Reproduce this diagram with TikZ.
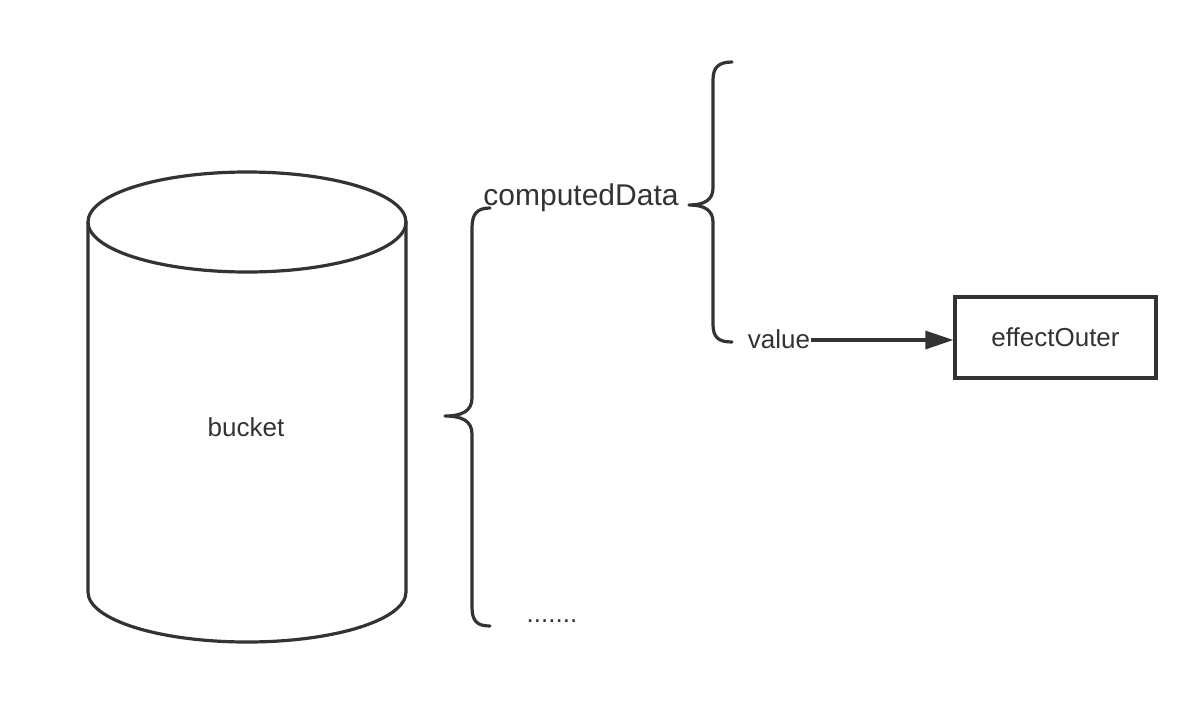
\documentclass[tikz,border=0pt]{standalone}
\usepackage{fontspec}
\setmainfont{Liberation Sans}
\usetikzlibrary{arrows.meta}
\definecolor{ink}{HTML}{333333}
\begin{document}
\begin{tikzpicture}[x=1pt,y=-1pt,
  stroke/.style={draw=ink,line width=3.2pt,line cap=round,line join=round},
  lbl/.style={text=ink,inner sep=1pt,font=\fontsize{26}{30}\selectfont},
  boxnode/.style={draw=ink,line width=3.2pt,minimum width=201pt,minimum height=81pt,inner sep=0pt,text=ink,font=\fontsize{26}{30}\selectfont}]
\useasboundingbox (0,0) rectangle (1178,702);
% cylinder
\draw[stroke] (247,222) ellipse [x radius=159, y radius=50];
\draw[stroke] (88,222) -- (88,592) arc[start angle=180, end angle=0, x radius=159, y radius=50] -- (406,222);
\node[lbl] (bucket) at (246,427) {bucket};
% left brace
\draw[stroke] (490,208) .. controls (477,208) and (472,214) .. (472,228) -- (472,398)
  .. controls (472,411) and (462,416) .. (445,416)
  .. controls (462,416) and (472,421) .. (472,434) -- (472,607)
  .. controls (472,621) and (477,626) .. (490,626);
% right brace
\draw[stroke] (732,62) .. controls (718,62) and (713,68) .. (713,80) -- (713,188)
  .. controls (713,200) and (704,205) .. (689,205)
  .. controls (704,205) and (713,210) .. (713,222) -- (713,324)
  .. controls (713,337) and (718,342) .. (732,342);
\node[lbl,font=\fontsize{30}{34}\selectfont] (cd) at (581,198) {computedData};
\node[lbl] (value) at (779,339) {value};
\node[lbl] (dots) at (552,621) {.......};
\node[boxnode] (eo) at (1055.5,337.5) {effectOuter};
\coordinate (arrowend) at (value.east -| eo.west);
\draw[stroke,line cap=butt,-{Triangle[length=28pt,width=18pt]}] ([yshift=-1pt]value.east) -- ([yshift=-1pt]arrowend);
\end{tikzpicture}
\end{document}
